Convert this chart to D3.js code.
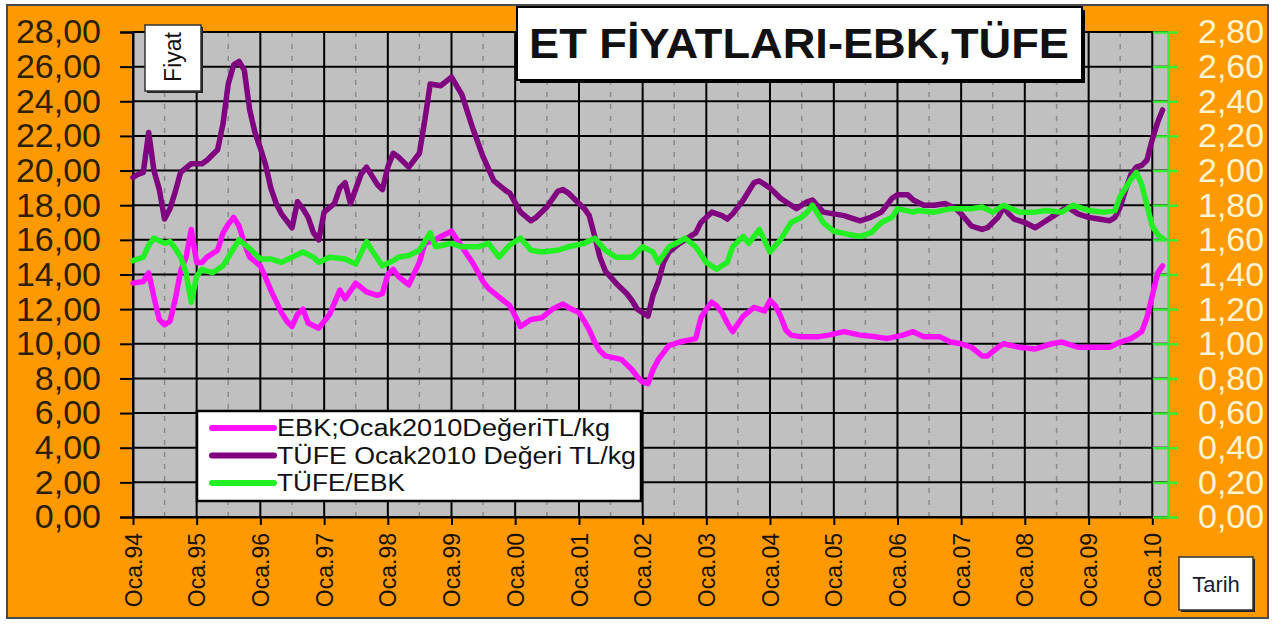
<!DOCTYPE html>
<html><head><meta charset="utf-8">
<script src="https://cdn.jsdelivr.net/npm/d3@7"></script>
<style>html,body{margin:0;padding:0;background:#fff;} svg{display:block;font-family:"Liberation Sans",Arial,sans-serif;}</style>
</head><body><svg id="c" width="1277" height="624"></svg>
<script>
// ---- data ----
const titleText = "ET FİYATLARI-EBK,TÜFE";
const leftTicks = [0,2,4,6,8,10,12,14,16,18,20,22,24,26,28];
const leftTickLabels = ["0,00","2,00","4,00","6,00","8,00","10,00","12,00","14,00","16,00","18,00","20,00","22,00","24,00","26,00","28,00"];
const rightTicks = [0,0.2,0.4,0.6,0.8,1.0,1.2,1.4,1.6,1.8,2.0,2.2,2.4,2.6,2.8];
const rightTickLabels = ["0,00","0,20","0,40","0,60","0,80","1,00","1,20","1,40","1,60","1,80","2,00","2,20","2,40","2,60","2,80"];
const yearTickLabels = ["Oca.94","Oca.95","Oca.96","Oca.97","Oca.98","Oca.99","Oca.00","Oca.01","Oca.02","Oca.03","Oca.04","Oca.05","Oca.06","Oca.07","Oca.08","Oca.09","Oca.10"];
const seriesNames = ["EBK;Ocak2010DeğeriTL/kg","TÜFE Ocak2010 Değeri TL/kg","TÜFE/EBK"];
const seriesColors = ["#ff10ff","#800080","#22f022"];

// months counted from Ocak 1994 (0 = Oca.94)
const ebkMonths = [0,2,3,4,5,6,7,8,9,10,11,12,13,14,16,17,18,19,20,21,22,24,25,26,28,29,30,31,32,33,35,37,39,40,42,44,46,47,48,49,50,52,54,55,57,58,60,62,64,66,67,69,71,72,73,75,77,79,81,82,84,85,86,87,88,89,92,94,95,96,97,98,99,101,103,106,107,108,109,110,111,112,113,115,117,119,120,121,122,123,124,126,129,131,134,137,140,142,145,147,149,152,154,156,158,160,161,163,164,167,170,173,175,178,181,184,186,188,190,191,192,193,194];
const ebkValues = [13.5,13.6,14.1,12.7,11.4,11.1,11.3,12.6,14.2,15.0,16.6,14.7,14.7,15.0,15.4,16.4,16.9,17.3,16.8,15.8,15.0,14.5,13.8,13.1,11.8,11.3,11.0,11.7,12.0,11.2,10.9,11.7,13.1,12.6,13.5,13.0,12.8,12.9,14.0,14.3,13.9,13.4,14.7,15.8,16.0,16.2,16.5,15.6,14.7,13.6,13.2,12.7,12.2,11.6,11.0,11.4,11.5,12.0,12.3,12.1,11.8,11.3,10.8,10.1,9.6,9.3,9.1,8.5,8.1,7.8,7.7,8.5,9.1,9.9,10.1,10.3,11.5,12.0,12.4,12.2,11.8,11.2,10.7,11.6,12.1,11.9,12.5,12.2,11.6,10.8,10.5,10.4,10.4,10.5,10.7,10.5,10.4,10.3,10.5,10.7,10.4,10.4,10.1,10.0,9.8,9.3,9.3,9.8,10.0,9.8,9.7,10.0,10.1,9.8,9.8,9.8,10.1,10.3,10.7,11.5,12.8,14.1,14.5];

const tufeMonths = [0,1,2,3,4,5,6,7,8,9,11,13,14,16,17,18,19,20,21,22,23,24,25,26,27,28,30,31,32,33,34,35,36,38,39,40,41,43,44,46,47,48,49,50,52,54,55,56,58,60,62,64,66,68,70,71,73,75,76,78,80,81,82,84,85,86,87,88,89,91,93,94,95,96,97,98,99,100,101,103,105,106,107,109,111,112,113,115,117,118,120,122,124,125,127,128,130,132,134,136,137,139,141,143,144,146,147,149,151,153,155,156,158,160,161,163,164,165,166,168,170,171,173,175,176,178,180,182,184,185,186,187,188,189,190,191,192,193,194];
const tufeValues = [19.6,19.8,19.9,22.2,20.0,18.9,17.2,17.8,18.8,19.9,20.4,20.4,20.6,21.2,22.7,25.0,26.1,26.3,25.8,23.5,22.2,21.3,20.3,19.0,18.1,17.5,16.7,18.2,17.8,17.3,16.4,16.0,17.6,18.1,19.0,19.3,18.1,19.8,20.2,19.2,18.9,20.2,21.0,20.8,20.2,21.0,22.9,25.0,24.9,25.4,24.4,22.5,20.8,19.4,18.9,18.7,17.6,17.1,17.3,17.9,18.8,18.9,18.7,18.1,17.8,17.4,16.2,15.0,14.2,13.5,12.9,12.5,12.0,11.8,11.6,12.8,13.6,14.7,15.3,15.8,16.2,16.4,17.0,17.6,17.4,17.2,17.5,18.3,19.3,19.4,19.0,18.4,18.0,17.8,18.2,18.3,17.6,17.5,17.4,17.2,17.1,17.3,17.6,18.4,18.6,18.6,18.3,18.0,18.0,18.1,17.8,17.5,16.8,16.6,16.7,17.3,17.9,17.5,17.2,17.0,16.7,16.9,17.3,17.7,17.9,17.5,17.3,17.2,17.1,17.3,17.9,18.9,19.8,20.2,20.3,20.6,21.8,22.8,23.5];

const ratioMonths = [0,2,3,4,6,7,8,9,10,11,12,13,15,17,19,20,22,24,26,28,30,32,34,35,37,40,42,44,45,47,49,50,52,54,56,57,60,62,65,67,69,71,73,75,77,80,82,85,87,89,91,94,96,98,99,101,103,104,106,108,110,112,113,115,116,118,120,122,124,126,127,128,130,132,135,137,139,141,143,144,147,148,151,154,158,160,162,164,167,170,172,175,177,180,183,185,186,188,189,190,191,192,193,194];
const ratioValues = [1.48,1.50,1.57,1.61,1.58,1.59,1.55,1.50,1.41,1.24,1.39,1.43,1.41,1.45,1.55,1.60,1.55,1.49,1.49,1.47,1.50,1.53,1.50,1.47,1.50,1.49,1.46,1.59,1.54,1.45,1.48,1.50,1.51,1.54,1.64,1.56,1.58,1.56,1.56,1.58,1.50,1.57,1.61,1.54,1.53,1.54,1.56,1.58,1.61,1.54,1.50,1.50,1.56,1.53,1.47,1.56,1.59,1.61,1.56,1.47,1.43,1.47,1.56,1.62,1.58,1.66,1.53,1.60,1.70,1.73,1.76,1.80,1.70,1.65,1.63,1.62,1.64,1.70,1.73,1.78,1.76,1.77,1.76,1.78,1.78,1.79,1.76,1.80,1.76,1.76,1.77,1.76,1.80,1.77,1.76,1.77,1.85,1.95,1.99,1.92,1.80,1.68,1.63,1.61];

// ---- layout ----
const svg = d3.select("#c");
const L = 133, R = 1168, T = 32, B = 517;
const monthDate = m => new Date(1994, m, 1);
const x = d3.scaleTime().domain([new Date(1994,0,1), new Date(2010,3,1)]).range([L, R]);
const y = d3.scaleLinear().domain([0, 28]).range([B, T]);
const y2 = d3.scaleLinear().domain([0, 2.8]).range([B, T]);
const years = d3.range(1994, 2011).map(yr => new Date(yr, 0, 1));
const midYears = d3.range(1994, 2010).map(yr => new Date(yr, 6, 1));

// frame
svg.append("rect").attr("x",7).attr("y",5).attr("width",1261).attr("height",613)
  .attr("fill","#ff9900").attr("stroke","#4a4a4a").attr("stroke-width",2);
svg.append("rect").attr("x",L).attr("y",T).attr("width",R-L).attr("height",B-T).attr("fill","#c0c0c0");

// dashed mid-year lines
svg.append("g").selectAll("line").data(midYears).join("line")
  .attr("x1",d=>x(d)).attr("x2",d=>x(d)).attr("y1",T).attr("y2",B)
  .attr("stroke","#8a8a8a").attr("stroke-width",1.5).attr("stroke-dasharray","5,7");

// horizontal gridlines
svg.append("g").selectAll("line").data(leftTicks).join("line")
  .attr("x1",L).attr("x2",R).attr("y1",d=>y(d)).attr("y2",d=>y(d))
  .attr("stroke","#000").attr("stroke-width",2);
// vertical year gridlines
svg.append("g").selectAll("line").data(years).join("line")
  .attr("x1",d=>x(d)).attr("x2",d=>x(d)).attr("y1",T).attr("y2",B)
  .attr("stroke","#000").attr("stroke-width",2);

// left axis
const gL = svg.append("g").attr("transform",`translate(${L},0)`)
  .call(d3.axisLeft(y).tickValues(leftTicks).tickFormat((d,i)=>leftTickLabels[i]).tickSize(13).tickPadding(19));
gL.select(".domain").attr("stroke","#000").attr("stroke-width",2);
gL.selectAll(".tick line").attr("stroke","#000").attr("stroke-width",2);
gL.selectAll(".tick text").attr("font-size",34).attr("fill","#2e1f00")
  .attr("font-family","'Liberation Sans',Arial,sans-serif");

// bottom axis
const gB = svg.append("g").attr("transform",`translate(0,${B})`)
  .call(d3.axisBottom(x).tickValues(years).tickFormat((d,i)=>yearTickLabels[i]).tickSize(8).tickSizeOuter(0));
gB.select(".domain").attr("stroke","#000").attr("stroke-width",2);
gB.selectAll(".tick line").attr("stroke","#000").attr("stroke-width",2);
gB.selectAll(".tick text").attr("font-size",23).attr("fill","#1a1200")
  .attr("font-family","'Liberation Sans',Arial,sans-serif")
  .attr("transform","rotate(-90)").attr("text-anchor","end")
  .attr("x",-16).attr("y",0).attr("dy","0.35em");

// right axis
const gR = svg.append("g").attr("transform",`translate(${R},0)`)
  .call(d3.axisRight(y2).tickValues(rightTicks).tickFormat((d,i)=>rightTickLabels[i]).tickSize(10).tickPadding(20).tickSizeOuter(0));
gR.select(".domain").attr("stroke","#33ee33").attr("stroke-width",2.5);
gR.selectAll(".tick line").attr("stroke","#33ee33").attr("stroke-width",2.5).attr("x1",-15);
gR.selectAll(".tick text").attr("font-size",34).attr("fill","#fff5d2")
  .attr("font-family","'Liberation Sans',Arial,sans-serif");

// series
const mk = (ms, vs) => ms.map((m,i)=>({d:monthDate(m), v:vs[i]}));
const lineL = d3.line().x(p=>x(p.d)).y(p=>y(p.v));
const lineR = d3.line().x(p=>x(p.d)).y(p=>y2(p.v));
const plot = svg.append("g");
plot.append("path").datum(mk(ebkMonths, ebkValues)).attr("d",lineL)
  .attr("fill","none").attr("stroke",seriesColors[0]).attr("stroke-width",5.5).attr("stroke-linejoin","round").attr("stroke-linecap","round");
plot.append("path").datum(mk(tufeMonths, tufeValues)).attr("d",lineL)
  .attr("fill","none").attr("stroke",seriesColors[1]).attr("stroke-width",5.5).attr("stroke-linejoin","round").attr("stroke-linecap","round");
plot.append("path").datum(mk(ratioMonths, ratioValues)).attr("d",lineR)
  .attr("fill","none").attr("stroke",seriesColors[2]).attr("stroke-width",5.5).attr("stroke-linejoin","round").attr("stroke-linecap","round");

// legend
const legendTextWidths = [333, 359, 128];
const lg = svg.append("g");
lg.append("rect").attr("x",197).attr("y",411).attr("width",444).attr("height",90)
  .attr("fill","#fff").attr("stroke","#000").attr("stroke-width",2.5);
seriesNames.forEach((n,i)=>{
  const yy = 428 + i*27.5;
  lg.append("line").attr("x1",212).attr("x2",274).attr("y1",yy).attr("y2",yy)
    .attr("stroke",seriesColors[i]).attr("stroke-width",6).attr("stroke-linecap","round");
  lg.append("text").attr("x",277).attr("y",yy).attr("dy","0.35em")
    .attr("font-size",23.5).attr("fill","#111")
    .attr("textLength",legendTextWidths[i]).attr("lengthAdjust","spacingAndGlyphs").text(n);
});

// Fiyat box
svg.append("rect").attr("x",147).attr("y",27).attr("width",56).attr("height",66).attr("fill","#222");
svg.append("rect").attr("x",145).attr("y",25).attr("width",56).attr("height",66)
  .attr("fill","#fff").attr("stroke","#333").attr("stroke-width",1.5);
svg.append("text").attr("transform","translate(173,57) rotate(-90)").attr("text-anchor","middle")
  .attr("dy","0.35em").attr("font-size",23).attr("fill","#111").text("Fiyat");

// Tarih box
svg.append("rect").attr("x",1181).attr("y",559).attr("width",74).attr("height",53).attr("fill","#222");
svg.append("rect").attr("x",1179).attr("y",557).attr("width",74).attr("height",53)
  .attr("fill","#fff").attr("stroke","#333").attr("stroke-width",1.5);
svg.append("text").attr("x",1216).attr("y",584).attr("text-anchor","middle").attr("dy","0.35em")
  .attr("font-size",22).attr("fill","#1b1b33").text("Tarih");

// title
svg.append("rect").attr("x",520).attr("y",10).attr("width",565).attr("height",73).attr("fill","#000");
svg.append("rect").attr("x",517).attr("y",7).attr("width",565).attr("height",73)
  .attr("fill","#fff").attr("stroke","#000").attr("stroke-width",2);
svg.append("text").attr("x",799).attr("y",58).attr("text-anchor","middle")
  .attr("font-size",43).attr("font-weight","bold").attr("fill","#111")
  .attr("textLength",540).attr("lengthAdjust","spacingAndGlyphs").text(titleText);
</script></body></html>
